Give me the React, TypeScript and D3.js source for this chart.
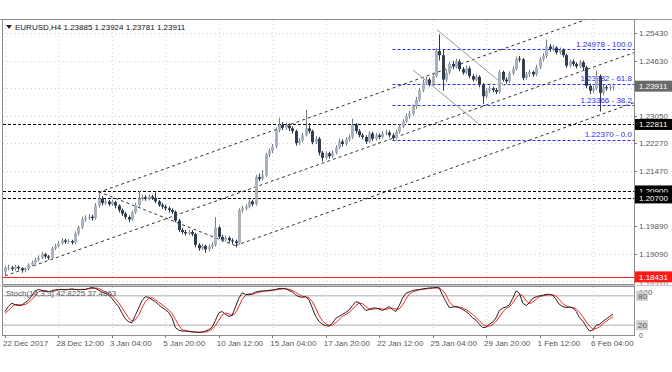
import React from "react";
import * as d3 from "d3";

// ---------- DATA ----------
const firstOpen = 1.1858;
const closes = [
  1.1868,1.1870,1.1866,1.1872,1.1868,1.1862,1.1866,1.1878,1.1884,1.1892,
  1.1898,1.1908,1.1902,1.1898,1.1925,1.1932,1.1940,1.1948,1.1944,1.1946,
  1.1942,1.1968,1.1985,1.2008,1.2012,1.2016,1.2012,1.2048,1.2068,1.2055,
  1.2060,1.2052,1.2058,1.2048,1.2035,1.2025,1.2015,1.2008,1.2028,1.2050,
  1.2068,1.2072,1.2068,1.2074,1.2070,1.2060,1.2050,1.2045,1.2040,1.2035,
  1.2030,1.2005,1.1978,1.1972,1.1968,1.1972,1.1966,1.1935,1.1925,1.1932,
  1.1922,1.1930,1.1935,1.1985,1.1958,1.1950,1.1955,1.1948,1.1945,1.1940,
  1.2035,1.2040,1.2045,1.2060,1.2052,1.2130,1.2125,1.2135,1.2195,1.2205,
  1.2218,1.2265,1.2280,1.2272,1.2278,1.2270,1.2262,1.2228,1.2235,1.2250,
  1.2270,1.2262,1.2230,1.2240,1.2200,1.2185,1.2198,1.2190,1.2200,1.2215,
  1.2232,1.2225,1.2238,1.2245,1.2280,1.2262,1.2250,1.2245,1.2232,1.2255,
  1.2240,1.2250,1.2245,1.2255,1.2258,1.2250,1.2242,1.2260,1.2275,1.2290,
  1.2305,1.2312,1.2332,1.2352,1.2380,1.2402,1.2410,1.2398,1.2420,1.2492,
  1.2480,1.2410,1.2430,1.2455,1.2448,1.2462,1.2440,1.2430,1.2442,1.2420,
  1.2410,1.2418,1.2395,1.2362,1.2378,1.2385,1.2380,1.2375,1.2432,1.2410,
  1.2405,1.2428,1.2440,1.2470,1.2468,1.2415,1.2425,1.2432,1.2425,1.2445,
  1.2468,1.2478,1.2505,1.2498,1.2502,1.2488,1.2495,1.2480,1.2450,1.2462,
  1.2455,1.2448,1.2460,1.2445,1.2392,1.2378,1.2385,1.2420,1.2372,1.2388,
  1.2385,1.23885,1.23911
];
const highs = [
  1.1874,1.1878,1.1875,1.1878,1.1876,1.1871,1.1870,1.1882,1.1890,1.1898,
  1.1905,1.1915,1.1912,1.1906,1.1930,1.1938,1.1946,1.1955,1.1953,1.1952,
  1.1950,1.1974,1.1990,1.2016,1.2020,1.2024,1.2022,1.2055,1.2084,1.2075,
  1.2068,1.2064,1.2065,1.2062,1.2052,1.2040,1.2030,1.2020,1.2034,1.2056,
  1.2090,1.2080,1.2078,1.2080,1.2079,1.2086,1.2064,1.2056,1.2050,1.2046,
  1.2040,1.2034,1.2010,1.1984,1.1978,1.1978,1.1978,1.1970,1.1940,1.1938,
  1.1936,1.1936,1.1942,1.2015,1.1990,1.1964,1.1962,1.1960,1.1954,1.1950,
  1.2040,1.2048,1.2052,1.2066,1.2065,1.2136,1.2140,1.2150,1.2200,1.2212,
  1.2225,1.2272,1.2300,1.2288,1.2286,1.2284,1.2276,1.2266,1.2242,1.2256,
  1.2323,1.2285,1.2266,1.2248,1.2245,1.2205,1.2204,1.2203,1.2207,1.2222,
  1.2240,1.2238,1.2245,1.2252,1.2298,1.2285,1.2268,1.2256,1.2250,1.2262,
  1.2260,1.2256,1.2255,1.2262,1.2266,1.2264,1.2256,1.2266,1.2282,1.2296,
  1.2312,1.2320,1.2338,1.2360,1.2386,1.2410,1.2418,1.2415,1.2428,1.2500,
  1.2540,1.2495,1.2438,1.2462,1.2464,1.2470,1.2468,1.2446,1.2450,1.2448,
  1.2426,1.2425,1.2422,1.2400,1.2385,1.2392,1.2390,1.2386,1.2438,1.2436,
  1.2416,1.2434,1.2448,1.2476,1.2478,1.2472,1.2432,1.2438,1.2436,1.2452,
  1.2474,1.2486,1.2525,1.2512,1.2510,1.2506,1.2502,1.2500,1.2485,1.2468,
  1.2468,1.2460,1.2466,1.2465,1.2450,1.2398,1.2392,1.2436,1.2425,1.2395,
  1.2394,1.2395,1.23924
];
const lows = [
  1.1846,1.1862,1.1860,1.1861,1.1862,1.1855,1.1856,1.1862,1.1874,1.1880,
  1.1887,1.1894,1.1896,1.1892,1.1895,1.1920,1.1928,1.1936,1.1938,1.1939,
  1.1936,1.1938,1.1962,1.1980,1.2002,1.2006,1.2005,1.2008,1.2042,1.2048,
  1.2050,1.2046,1.2047,1.2040,1.2028,1.2018,1.2008,1.2000,1.2004,1.2024,
  1.2045,1.2062,1.2062,1.2063,1.2064,1.2055,1.2044,1.2038,1.2033,1.2028,
  1.2024,1.2000,1.1972,1.1966,1.1962,1.1963,1.1960,1.1928,1.1918,1.1920,
  1.1912,1.1916,1.1924,1.1930,1.1952,1.1944,1.1945,1.1942,1.1938,1.1928,
  1.1936,1.2028,1.2034,1.2040,1.2046,1.2048,1.2118,1.2120,1.2130,1.2188,
  1.2198,1.2212,1.2258,1.2265,1.2266,1.2262,1.2255,1.2220,1.2222,1.2230,
  1.2246,1.2255,1.2224,1.2225,1.2192,1.2175,1.2180,1.2183,1.2185,1.2195,
  1.2210,1.2218,1.2220,1.2232,1.2240,1.2255,1.2244,1.2238,1.2225,1.2228,
  1.2234,1.2235,1.2238,1.2240,1.2250,1.2244,1.2237,1.2238,1.2255,1.2270,
  1.2285,1.2298,1.2306,1.2326,1.2346,1.2374,1.2395,1.2390,1.2392,1.2416,
  1.2465,1.2378,1.2402,1.2425,1.2440,1.2442,1.2434,1.2424,1.2425,1.2414,
  1.2404,1.2405,1.2388,1.2340,1.2356,1.2372,1.2374,1.2368,1.2370,1.2404,
  1.2398,1.2400,1.2422,1.2436,1.2460,1.2408,1.2410,1.2418,1.2418,1.2420,
  1.2440,1.2462,1.2472,1.2490,1.2492,1.2482,1.2482,1.2474,1.2444,1.2445,
  1.2448,1.2442,1.2443,1.2438,1.2385,1.2368,1.2370,1.2380,1.2318,1.2365,
  1.2378,1.2378,1.23781
];
const stochK = [
  48,58,65,62,60,61,66,71,80,90,93,91,89,88,90,92,93,93,92,93,
  94,93,92,93,93,95,97,95,92,88,85,82,75,66,58,45,33,27,25,40,
  55,70,78,77,72,68,62,56,52,46,35,15,10,8,8,7,6,6,5,6,
  8,11,16,30,45,48,42,38,40,58,75,86,83,82,84,88,89,90,90,91,
  92,93,95,95,94,91,88,82,78,77,78,72,55,38,28,22,19,18,24,34,
  38,42,46,51,60,68,66,58,50,52,55,55,53,50,54,58,52,48,60,75,
  85,88,91,92,93,94,95,96,96,97,96,81,68,56,57,58,56,52,48,42,
  35,30,22,15,16,22,26,35,50,55,57,62,75,90,85,65,60,66,75,78,
  80,81,83,83,81,72,62,58,56,57,55,48,35,28,17,8,10,20,22,28,
  33,38,42.8225
];
const stochD = [
  44,50,57,62,62,61,62,66,72,80,88,91,91,89,89,90,92,93,93,93,
  93,93,93,93,93,94,95,96,95,92,88,85,81,74,66,56,45,35,28,31,
  40,55,68,75,76,72,67,62,57,51,44,32,20,11,9,8,7,6,6,6,
  6,8,12,19,30,41,45,43,40,45,58,73,81,84,83,85,87,89,90,90,
  91,92,93,94,95,93,91,87,83,79,78,76,68,55,40,29,23,20,20,25,
  32,38,42,46,52,60,65,64,58,53,52,54,54,53,52,54,55,53,53,61,
  73,83,88,90,92,93,94,95,96,96,96,91,82,68,60,57,57,55,52,47,
  42,36,29,22,18,18,21,28,37,47,54,58,65,76,83,80,70,64,67,73,
  78,80,81,82,82,79,72,64,59,57,56,53,46,37,27,18,12,13,17,23,
  28,33,37.4863
];
const timeLabels = ["22 Dec 2017","28 Dec 12:00","3 Jan 04:00","5 Jan 20:00","10 Jan 12:00","15 Jan 04:00","17 Jan 20:00","22 Jan 12:00","25 Jan 04:00","29 Jan 20:00","1 Feb 12:00","6 Feb 04:00"];
const timeLabelBars = [0,16,32,48,64,80,96,112,128,144,160,176];
const gridPrices = [1.2543,1.2463,1.2385,1.2305,1.2227,1.2147,1.2069,1.1989,1.1909,1.1831];
const priceTicks = [1.2543,1.2463,1.2305,1.2227,1.2147,1.1989,1.1909];
const bottomTick = 1.1831;
const blackLevels = [1.22811,1.209,1.207];
const redLevel = 1.18431;
const lastPrice = 1.23911;
const fibPrices = [1.24978,1.23982,1.23366,1.2237];
const fibRatios = ["100.0","61.8","38.2","0.0"];
const fibStartBar = 116;
// dashed trend lines: [bar, price] anchors, ray = extend to the right
const trendLines = [
  { a: [28, 1.2086], b: [130, 1.2433], ray: true },
  { a: [0, 1.1846], b: [182, 1.2466], ray: true },
  { a: [69, 1.1933], b: [182, 1.2322], ray: true },
  { a: [28, 1.2088], b: [69, 1.1933], ray: false },
];
const grayLines = [
  { a: [129.3, 1.2553], b: [149.7, 1.2392] },
  { a: [122.2, 1.2437], b: [141.6, 1.2285] },
];

// ---------- CHART ----------
export default function App() {
  const W = 672, H = 372;
  const L = 3, R = 634, T = 20, MB = 284, ST = 287, SB = 335;
  const N = closes.length;
  const x = d3.scaleLinear().domain([0, N - 1]).range([5, 613]);
  const y = d3.scaleLinear().domain([1.1831, 1.2543]).range([281.1, 33.3]);
  const ys = d3.scaleLinear().domain([0, 100]).range([SB, ST - 1]);
  const opens = closes.map((c, i) => (i === 0 ? firstOpen : closes[i - 1]));
  const font = "'Liberation Sans', Arial, sans-serif";
  const fmt = (v: number) => v.toFixed(5);

  const lineK = d3.line<number>().x((_, i) => x(i)).y((d) => ys(d));

  const seg = (a: number[], b: number[], ray: boolean) => {
    const x1 = x(a[0]), y1 = y(a[1]), x2 = x(b[0]), y2 = y(b[1]);
    if (!ray) return [x1, y1, x2, y2];
    const s = (y2 - y1) / (x2 - x1);
    return [x1, y1, R, y1 + s * (R - x1)];
  };

  const box = (p: number, fill: string, color: string) => {
    const cy = y(p);
    return (
      <g key={"b" + p}>
        <rect x={R + 1} y={cy - 5.5} width={37} height={11} fill={fill} />
        <text x={R + 5} y={cy + 3} fontSize={8} fill={color} fontFamily={font}>{fmt(p)}</text>
      </g>
    );
  };

  return (
    <div>
      <style>{"body{margin:0}"}</style>
      <svg width={W} height={H} style={{ display: "block", background: "#fff" }}>
        <defs>
          <clipPath id="mainclip"><rect x={L} y={T} width={R - L} height={MB - T} /></clipPath>
          <clipPath id="stclip"><rect x={L} y={ST} width={R - L} height={SB - ST} /></clipPath>
          <clipPath id="axclip"><rect x={R} y={282.5} width={W - R} height={2} /></clipPath>
        </defs>
        {/* grid */}
        {timeLabelBars.map((b) => (
          <g key={"vg" + b}>
            <line x1={x(b) + 0.5} x2={x(b) + 0.5} y1={T} y2={MB} stroke="#d4d4d4" strokeDasharray="1,3" />
            <line x1={x(b) + 0.5} x2={x(b) + 0.5} y1={ST} y2={SB} stroke="#d4d4d4" strokeDasharray="1,3" />
          </g>
        ))}
        {gridPrices.map((p) => (
          <line key={"hg" + p} x1={L} x2={R} y1={Math.round(y(p)) + 0.5} y2={Math.round(y(p)) + 0.5} stroke="#d4d4d4" strokeDasharray="1,3" />
        ))}

        <g clipPath="url(#mainclip)">
          {/* horizontal levels */}
          {blackLevels.map((p) => (
            <line key={"bl" + p} x1={L} x2={R} y1={Math.round(y(p)) + 0.5} y2={Math.round(y(p)) + 0.5} stroke="#000" strokeDasharray="3,2" />
          ))}
          <line x1={L} x2={R} y1={Math.round(y(redLevel)) + 0.5} y2={Math.round(y(redLevel)) + 0.5} stroke="#ff2020" />
          {/* fib */}
          {fibPrices.map((p, i) => (
            <g key={"fib" + p}>
              <line x1={x(fibStartBar)} x2={R} y1={Math.round(y(p)) + 0.5} y2={Math.round(y(p)) + 0.5} stroke="#2b2bff" strokeDasharray="3,2" />
              <text x={R - 2} y={y(p) - 2.5} textAnchor="end" fontSize={8} fill="#2b2bff" fontFamily={font}>{fmt(p) + " - " + fibRatios[i]}</text>
            </g>
          ))}
          {/* trend lines */}
          {trendLines.map((t, i) => {
            const [x1, y1, x2, y2] = seg(t.a, t.b, t.ray);
            return <line key={"tl" + i} x1={x1} y1={y1} x2={x2} y2={y2} stroke="#333" strokeDasharray="3,3" />;
          })}
          {grayLines.map((t, i) => {
            const [x1, y1, x2, y2] = seg(t.a, t.b, false);
            return <line key={"gl" + i} x1={x1} y1={y1} x2={x2} y2={y2} stroke="#9a9a9a" />;
          })}
          {/* candles */}
          {closes.map((c, i) => {
            const o = opens[i];
            const up = c >= o;
            const cx = Math.round(x(i));
            const top = Math.min(y(o), y(c));
            const h = Math.max(1, Math.abs(y(o) - y(c)));
            return (
              <g key={"c" + i}>
                <line x1={cx + 0.5} x2={cx + 0.5} y1={y(highs[i])} y2={y(lows[i])} stroke={up ? "#6f7b87" : "#2c3b4b"} />
                <rect x={cx - 1} y={top} width={3} height={h} fill={up ? "#a9b2bc" : "#2f3f50"} />
              </g>
            );
          })}
        </g>

        {/* stochastic */}
        <g clipPath="url(#stclip)">
          <line x1={L} x2={R} y1={ys(80)} y2={ys(80)} stroke="#c8c8c8" strokeWidth={1.5} />
          <line x1={L} x2={R} y1={ys(20)} y2={ys(20)} stroke="#c8c8c8" strokeWidth={1.5} />
          <path d={lineK(stochD) || ""} fill="none" stroke="#ff2020" strokeWidth={1} />
          <path d={lineK(stochK) || ""} fill="none" stroke="#222" strokeWidth={1} />
        </g>
        <text x={6} y={ST + 9} fontSize={8} fill="#555" fontFamily={font}>{"Stoch(14,3,3) " + stochK[N - 1].toFixed(4) + " " + stochD[N - 1].toFixed(4)}</text>

        {/* frames */}
        <line x1={0} x2={W} y1={T - 0.5} y2={T - 0.5} stroke="#9a9a9a" />
        <rect x={L - 0.5} y={T - 0.5} width={R - L + 1} height={MB - T + 1} fill="none" stroke="#8c8c8c" />
        <rect x={0} y={MB + 1} width={W} height={ST - MB - 2} fill="#c8c8c8" />
        <rect x={L - 0.5} y={ST - 0.5} width={R - L + 1} height={SB - ST + 1} fill="none" stroke="#8c8c8c" />

        {/* title */}
        <path d="M6,25 L12,25 L9,29 Z" fill="#222" />
        <text x={15} y={30} fontSize={8} fill="#111" fontFamily={font}>EURUSD,H4  1.23885 1.23924 1.23781 1.23911</text>

        {/* right price axis */}
        {gridPrices.map((p) => (
          <line key={"ptk" + p} x1={R} x2={R + 3} y1={Math.round(y(p)) + 0.5} y2={Math.round(y(p)) + 0.5} stroke="#777" />
        ))}
        {priceTicks.map((p) => (
          <text key={"pt" + p} x={R + 5} y={y(p) + 3} fontSize={8} fill="#555" fontFamily={font}>{fmt(p)}</text>
        ))}
        <g clipPath="url(#axclip)">
          <text x={R + 5} y={y(bottomTick) + 6} fontSize={8} fill="#555" fontFamily={font}>{fmt(bottomTick)}</text>
        </g>
        {box(lastPrice, "#6a6a6a", "#fff")}
        {box(blackLevels[0], "#000", "#fff")}
        {box(blackLevels[1], "#000", "#fff")}
        {box(blackLevels[2], "#000", "#fff")}
        {box(redLevel, "#ff1a1a", "#fff")}

        {/* stoch axis */}
        <text x={R + 5} y={ST + 8} fontSize={8} fill="#555" fontFamily={font}>100</text>
        <rect x={R + 2} y={ys(80) - 5} width={12} height={10} fill="#d0d0d0" />
        <text x={R + 4} y={ys(80) + 3} fontSize={8} fill="#555" fontFamily={font}>80</text>
        <rect x={R + 2} y={ys(20) - 5} width={12} height={10} fill="#d0d0d0" />
        <text x={R + 4} y={ys(20) + 3} fontSize={8} fill="#555" fontFamily={font}>20</text>
        <text x={R + 5} y={SB + 3} fontSize={7} fill="#555" fontFamily={font}>0</text>

        {/* time axis */}
        {timeLabelBars.map((b, i) => (
          <g key={"tx" + b}>
            <line x1={Math.round(x(b)) + 0.5} x2={Math.round(x(b)) + 0.5} y1={SB} y2={SB + 3} stroke="#777" />
            <text x={x(b) - 2} y={SB + 11} fontSize={8} fill="#555" fontFamily={font}>{timeLabels[i]}</text>
          </g>
        ))}
      </svg>
    </div>
  );
}
